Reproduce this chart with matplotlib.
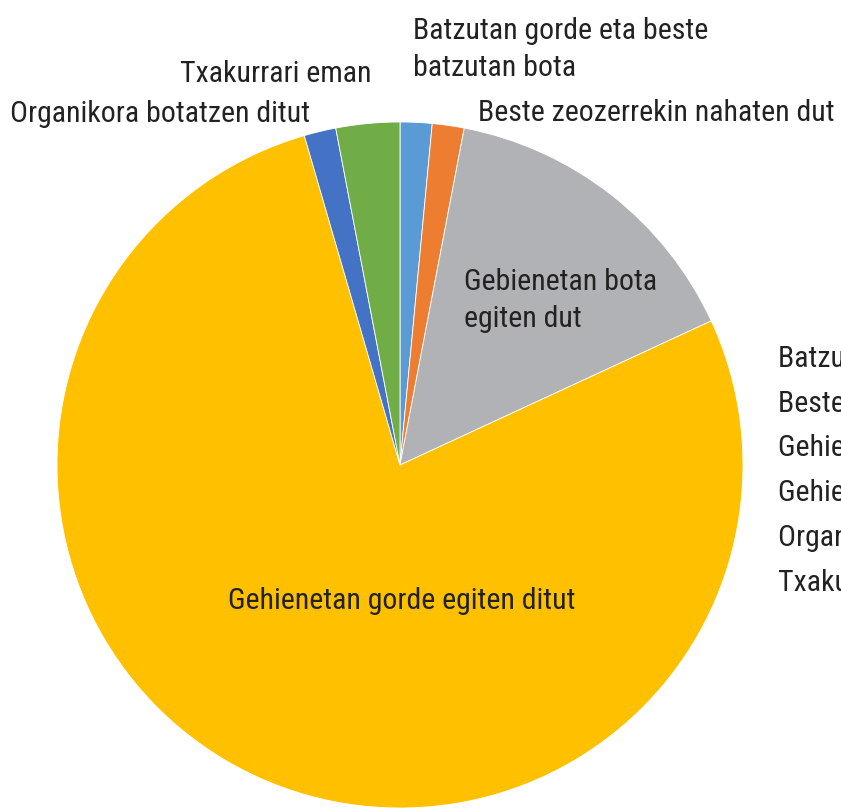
import matplotlib
matplotlib.use("Agg")
import matplotlib.pyplot as plt

plt.rcParams['font.family'] = ['Roboto Condensed', 'DejaVu Sans']

categories = [
    "Batzutan gorde eta beste batzutan bota",
    "Beste zeozerrekin nahaten dut",
    "Gehienetan bota egiten dut",
    "Gehienetan gorde egiten ditut",
    "Organikora botatzen ditut",
    "Txakurrari eman",
]
values = [1.5, 1.5, 15.1, 77.4, 1.5, 3.0]
colors = ["#5B9BD5", "#ED7D31", "#B1B2B5", "#FFC000", "#4472C4", "#70AD47"]

W, H = 841, 809
fig = plt.figure(figsize=(W / 100, H / 100), dpi=100)
ax = fig.add_axes([0, 0, 1, 1])

# pie centred at (400, 465) px from the top-left, radius 343 px
wedges, _ = ax.pie(values, colors=colors, startangle=90, counterclock=False,
                   center=(400, H - 465), radius=343,
                   wedgeprops=dict(edgecolor="white", linewidth=0.6))
ax.set_xlim(0, W)
ax.set_ylim(0, H)
ax.axis("off")

fs = 21.5
tc = "#222222"

def lab(x, y, s, ha="left"):
    ax.text(x, H - y, s, ha=ha, va="baseline", fontsize=fs, color=tc)

lab(413, 39, "Batzutan gorde eta beste")
lab(413, 76, "batzutan bota")
lab(372, 82, "Txakurrari eman", ha="right")
lab(310, 122, "Organikora botatzen ditut", ha="right")
lab(478, 121, "Beste zeozerrekin nahaten dut")
lab(464, 290, "Gebienetan bota")
lab(464, 327, "egiten dut")
lab(228, 609, "Gehienetan gorde egiten ditut")

leg = ax.legend(wedges, categories, loc="upper left",
                bbox_to_anchor=(778, H - 345), bbox_transform=ax.transData,
                frameon=False, handlelength=0, handletextpad=0,
                borderpad=0, borderaxespad=0, labelspacing=0.56,
                fontsize=fs, labelcolor=tc)

fig.savefig("out.png", dpi=100)
